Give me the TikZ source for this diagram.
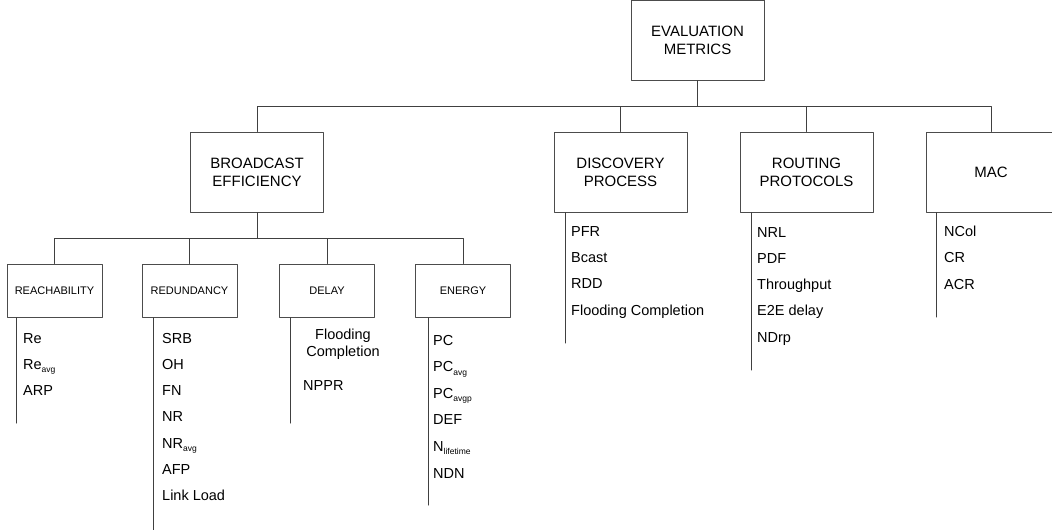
\documentclass[tikz,border=0pt]{standalone}
\usepackage{fontspec}
\setmainfont{Liberation Sans}
\newcommand{\lowidx}[1]{\raisebox{-0.45ex}{\fontsize{8.5}{9}\selectfont #1}}
\tikzset{
	bigbox/.style={draw=black!70, line width=1pt, minimum width=133pt, minimum height=80pt, align=center, inner sep=0pt, font=\fontsize{15}{18}\selectfont},
	smallbox/.style={draw=black!70, line width=1pt, minimum width=95pt, minimum height=53pt, inner sep=0pt, font=\fontsize{11}{13}\selectfont},
	item/.style={anchor=base west, inner sep=0pt, font=\fontsize{14.5}{17.5}\selectfont},
	link/.style={draw=black!75, line width=1pt}
}
\begin{document}
\begin{tikzpicture}[x=1pt, y=-1pt, line join=round, line cap=round]
		\useasboundingbox (0,0) rectangle (1052,530);
		\node[bigbox] (eval) at (697.5,40) {EVALUATION\\METRICS};
		\node[bigbox] (bcast) at (257,172) {BROADCAST\\EFFICIENCY};
		\node[bigbox] (disc) at (620.5,172) {DISCOVERY\\PROCESS};
		\node[bigbox] (rout) at (806.5,172) {ROUTING\\PROTOCOLS};
		\node[bigbox, minimum width=130pt] (mac) at (991,172) {MAC};
		\node[smallbox] (reach) at (54.5,290.5) {REACHABILITY};
		\node[smallbox] (redun) at (189.5,290.5) {REDUNDANCY};
		\node[smallbox] (delay) at (327,290.5) {DELAY};
		\node[smallbox] (energy) at (463,290.5) {ENERGY};
		\coordinate (bus) at (0,106);
		\coordinate (subbus) at (0,238.5);
		\foreach \n in {bcast,disc,rout,mac}
			\draw[link] (eval.south) -- (eval.south |- bus) -| (\n.north);
		\foreach \n in {reach,redun,delay,energy}
			\draw[link] (bcast.south) -- (bcast.south |- subbus) -| (\n.north);
		\coordinate (reachend) at (16,423);
		\coordinate (redunend) at (153,532);
		\coordinate (delayend) at (290,423);
		\coordinate (energyend) at (428,505);
		\coordinate (discend) at (565,343);
		\coordinate (routend) at (751,370);
		\coordinate (macend) at (936,317);
		\foreach \n in {reach,redun,delay,energy,disc,rout,mac}
			\draw[link] (\n.south -| \n end) -- (\n end);
		\foreach \t [count=\i] in {Re, {Re\lowidx{avg}}, ARP}
			\node[item] (reach\i) at (23,343+26*\i-26) {\t};
		\foreach \t [count=\i] in {SRB, OH, FN, NR, {NR\lowidx{avg}}, AFP, Link Load}
			\node[item] (redun\i) at (162,343+26.3*\i-26.3) {\t};
		\node[item, anchor=center, align=center] (delay1) at (343,344) {Flooding\\Completion};
		\node[item] (delay2) at (303,390) {NPPR};
		\foreach \t [count=\i] in {PC, {PC\lowidx{avg}}, {PC\lowidx{avgp}}, DEF, {N\lowidx{lifetime}}, NDN}
			\node[item] (energy\i) at (433,345+26.6*\i-26.6) {\t};
		\foreach \t [count=\i] in {PFR, Bcast, RDD, Flooding Completion}
			\node[item] (disc\i) at (571,236+26.4*\i-26.4) {\t};
		\foreach \t [count=\i] in {NRL, PDF, Throughput, E2E delay, NDrp}
			\node[item] (rout\i) at (757,237+26.3*\i-26.3) {\t};
		\foreach \t [count=\i] in {NCol, CR, ACR}
			\node[item] (mac\i) at (944,236+26.5*\i-26.5) {\t};
	\end{tikzpicture}
\end{document}
